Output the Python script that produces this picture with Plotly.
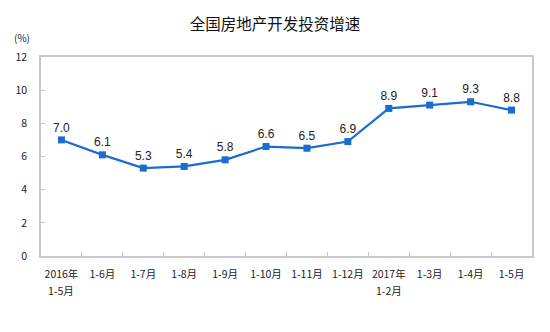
import plotly.graph_objects as go

periods = ["2016年", "1-6月", "1-7月", "1-8月", "1-9月", "1-10月",
           "1-11月", "1-12月", "2017年", "1-3月", "1-4月", "1-5月"]
# second line under the year-start labels
period_sub = ["1-5月", "", "", "", "", "", "", "", "1-2月", "", "", ""]
growth = [7.0, 6.1, 5.3, 5.4, 5.8, 6.6, 6.5, 6.9, 8.9, 9.1, 9.3, 8.8]
y_ticks = [0, 2, 4, 6, 8, 10, 12]

blue = "#1a6ccf"
tick_font = dict(family="Noto Sans CJK SC", size=10.5, color="#222222")

fig = go.Figure()
fig.add_trace(go.Scatter(
    x=periods, y=growth,
    mode="lines+markers+text",
    line=dict(color=blue, width=2.2),
    marker=dict(symbol="square", size=7, color=blue),
    text=[f"{v:.1f}" for v in growth],
    textposition="top center",
    textfont=dict(family="Liberation Sans, Arial", size=12, color="#222222"),
    cliponaxis=False,
    showlegend=False,
))

annotations = [dict(text="(%)", xref="paper", yref="paper", x=(12 - 41) / 491,
                    y=1 + 19 / 199, xanchor="left", yanchor="middle",
                    showarrow=False,
                    font=dict(family="Noto Sans CJK SC", size=10, color="#222222"))]
for cat, sub in zip(periods, period_sub):
    if sub:
        annotations.append(dict(text=sub, x=cat, xref="x", yref="paper",
                                y=-34 / 199, xanchor="center", yanchor="middle",
                                showarrow=False, font=tick_font))

fig.update_layout(
    width=550, height=332,
    margin=dict(l=41, r=18, t=57, b=76, autoexpand=False),
    paper_bgcolor="white", plot_bgcolor="white",
    title=dict(text="全国房地产开发投资增速", x=0.5, xanchor="center",
               y=1 - 25 / 332, yanchor="middle",
               font=dict(family="Noto Sans CJK SC", size=15.5, color="#111111")),
    xaxis=dict(type="category", tickson="boundaries", ticks="inside",
               range=[-0.5, len(periods) - 0.5], automargin=False,
               ticklen=4, tickcolor="#c8c8c8", showgrid=False,
               showline=True, linecolor="#c8c8c8", linewidth=1.5, mirror=True,
               tickfont=tick_font, tickangle=0, ticklabelstandoff=8),
    yaxis=dict(range=[0, 12], tickvals=y_ticks, ticks="inside", ticklen=4,
               automargin=False,
               tickcolor="#c8c8c8", showgrid=False, zeroline=False,
               showline=True, linecolor="#c8c8c8", linewidth=1.5, mirror=True,
               tickfont=tick_font, ticklabelstandoff=10),
    annotations=annotations,
)

fig.write_html("out.html")
